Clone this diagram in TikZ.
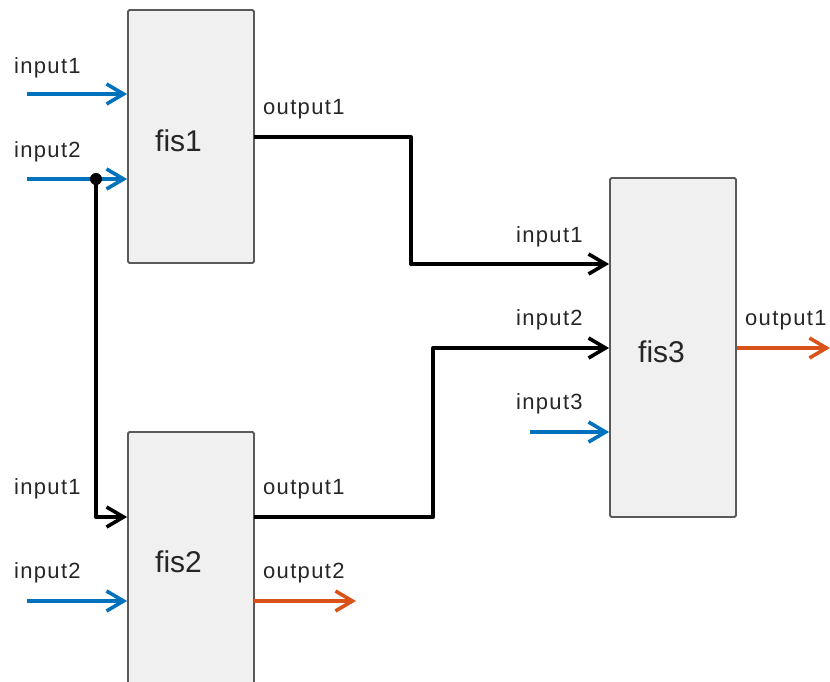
\documentclass[tikz,border=0pt]{standalone}
\usepackage{fontspec}
\setmainfont{Liberation Sans}
\usetikzlibrary{arrows.meta}
\definecolor{mblue}{HTML}{0072BD}
\definecolor{morange}{HTML}{D95319}
\definecolor{boxfill}{HTML}{F0F0F0}
\definecolor{boxdraw}{HTML}{5A5A5A}
\tikzset{
  fisbox/.style={draw=boxdraw, line width=1.8pt, fill=boxfill, rounded corners=1.5pt, minimum width=126pt, inner sep=0pt},
  fislabel/.style={anchor=base west, inner sep=0pt, font=\fontsize{30}{30}\selectfont, text=black!85},
  portlabel/.style={anchor=base west, inner sep=0pt, font=\fontsize{22}{22}\selectfont\addfontfeature{LetterSpace=6}, text=black!85},
  tipc/.style={-{Straight Barb[length=17pt,width=20pt,line width=3.6pt]}},
  bluearrow/.style={tipc, draw=mblue, line width=4pt},
  orangearrow/.style={tipc, draw=morange, line width=4pt},
  blackarrow/.style={tipc, draw=black, line width=4pt, line join=round}
}
\begin{document}
\begin{tikzpicture}[x=1pt,y=-1pt]
\useasboundingbox (0,0) rectangle (830,681);
\clip (0,0) rectangle (830,681);
% boxes
\node[fisbox, minimum height=253pt] (fis1) at (191,136.5) {};
\node[fisbox, minimum height=270pt] (fis2) at (191,567) {};
\node[fisbox, minimum height=339pt] (fis3) at (673,347.5) {};
\node[fislabel] (fis1l) at (155,151) {fis1};
\node[fislabel] (fis2l) at (155,572) {fis2};
\node[fislabel] (fis3l) at (638,362) {fis3};
% port labels
\node[portlabel] (l11) at (14,73) {input1};
\node[portlabel] (l12) at (14,157) {input2};
\node[portlabel] (l1o) at (263,114) {output1};
\node[portlabel] (l21) at (14,494) {input1};
\node[portlabel] (l22) at (14,578) {input2};
\node[portlabel] (l2o1) at (263,494) {output1};
\node[portlabel] (l2o2) at (263,578) {output2};
\node[portlabel] (l31) at (516,242) {input1};
\node[portlabel] (l32) at (516,325) {input2};
\node[portlabel] (l33) at (516,409) {input3};
\node[portlabel] (l3o) at (745,325) {output1};
% coordinates
\coordinate (s11) at (27,94);
\coordinate (s12) at (27,179);
\coordinate (dot) at (96,179);
\coordinate (b21) at (96,517);
\coordinate (s22) at (27,601);
\coordinate (o1) at (254,137);
\coordinate (k1a) at (411,137);
\coordinate (k1b) at (411,264);
\coordinate (o21) at (254,517);
\coordinate (k2a) at (433,517);
\coordinate (k2b) at (433,348);
\coordinate (o22) at (254,601);
\coordinate (e22) at (356,601);
\coordinate (s33) at (530,432);
\coordinate (o3) at (737,348);
\coordinate (e3) at (830,348);
% connectors
\draw[bluearrow] (s11) -- (s11 -| fis1.west);
\draw[bluearrow] (s12) -- (s12 -| fis1.west);
\draw[blackarrow] (dot) -- (b21) -- (b21 -| fis2.west);
\fill (dot) circle (6pt);
\draw[bluearrow] (s22) -- (s22 -| fis2.west);
\draw[blackarrow] (o1) -- (k1a) -- (k1b) -- (k1b -| fis3.west);
\draw[blackarrow] (o21) -- (k2a) -- (k2b) -- (k2b -| fis3.west);
\draw[orangearrow] (o22) -- (e22);
\draw[bluearrow] (s33) -- (s33 -| fis3.west);
\draw[orangearrow] (o3) -- (e3);
\end{tikzpicture}
\end{document}
